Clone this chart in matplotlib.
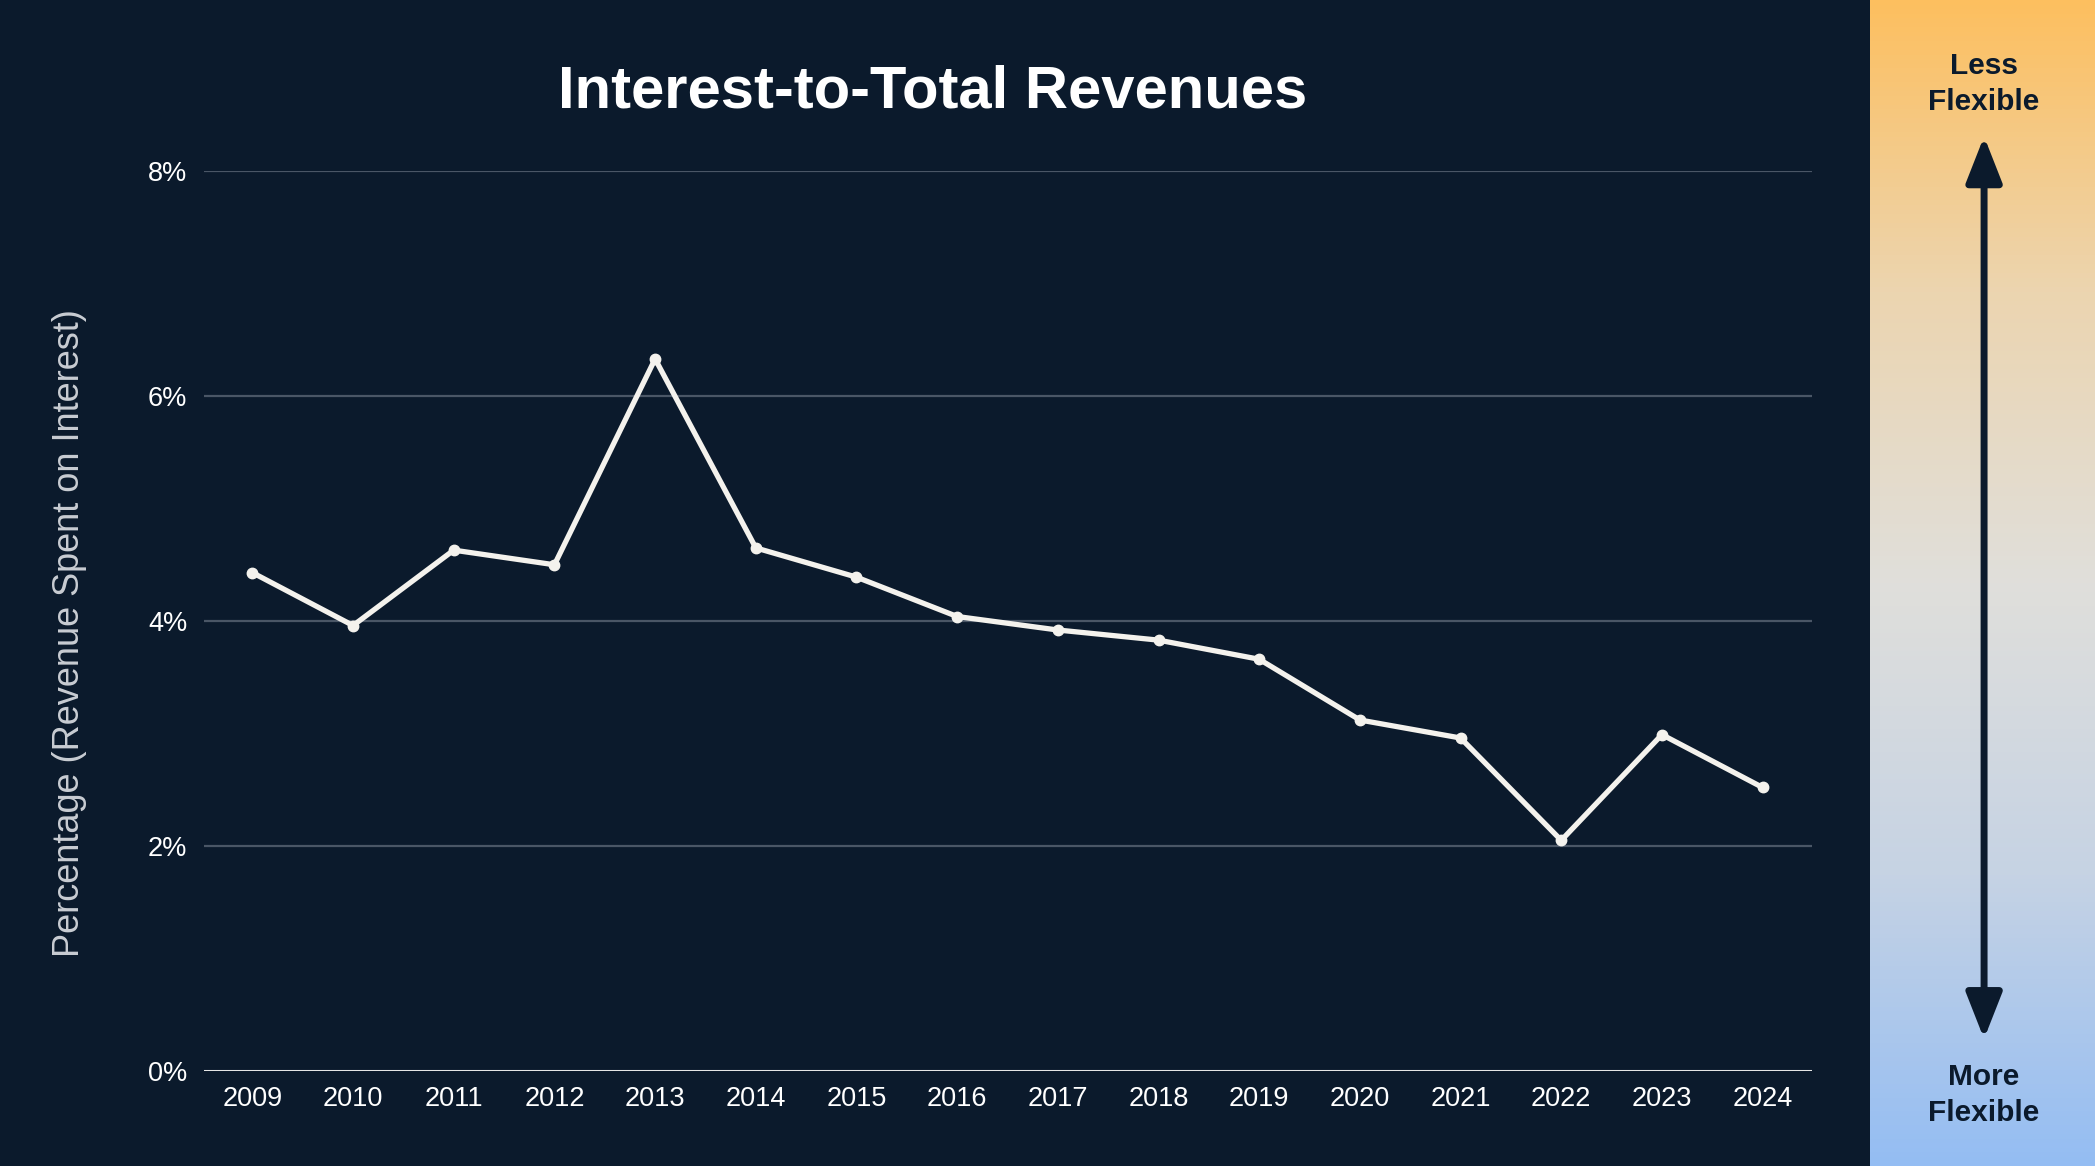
import numpy as np
import matplotlib.pyplot as plt
from matplotlib.colors import LinearSegmentedColormap

plt.rcParams['font.family'] = ['Liberation Sans', 'DejaVu Sans']

# data
years = ['2009', '2010', '2011', '2012', '2013', '2014', '2015', '2016',
         '2017', '2018', '2019', '2020', '2021', '2022', '2023', '2024']
interest_pct = [4.43, 3.96, 4.63, 4.50, 6.33, 4.65, 4.39, 4.04,
                3.92, 3.83, 3.66, 3.12, 2.96, 2.05, 2.99, 2.52]
y_ticks = [0, 2, 4, 6, 8]
y_ticklabels = ['0%', '2%', '4%', '6%', '8%']

bg = '#0b1a2c'
line_col = '#f4f2ed'
grid_col = '#4a5666'

fig = plt.figure(figsize=(20.95, 11.66), dpi=100, facecolor=bg)

ax = fig.add_axes([0.0974, 0.0815, 0.8649 - 0.0974, 0.8533 - 0.0815])
ax.set_facecolor(bg)
x = np.arange(len(years))
ax.plot(x, interest_pct, color=line_col, lw=3.8, marker='o', markersize=7.5,
        solid_joinstyle='round', zorder=3)
ax.set_xlim(-0.48, len(years) - 1 + 0.49)
ax.set_ylim(0, 8)
ax.set_yticks(y_ticks)
ax.set_yticklabels(y_ticklabels)
ax.set_xticks(x)
ax.set_xticklabels(years)
ax.tick_params(colors='white', labelsize=19.5, length=0)
ax.tick_params(axis='x', pad=11)
ax.tick_params(axis='y', pad=12)
for s in ax.spines.values():
    s.set_visible(False)
for yv in y_ticks[1:]:
    ax.axhline(yv, color=grid_col, lw=1.6, zorder=1)
ax.axhline(0, color='#e6e6e6', lw=2.2, zorder=2)

fig.text(0.0334, 0.457, 'Percentage (Revenue Spent on Interest)', rotation=90,
         ha='center', va='center', color='#c9cdd3', fontsize=26)
fig.text(0.445, 0.921, 'Interest-to-Total Revenues', ha='center', va='center',
         color='white', fontsize=43, fontweight='bold')

# side gradient panel
side = fig.add_axes([0.8926, 0, 1 - 0.8926, 1])
cmap = LinearSegmentedColormap.from_list(
    'flex', ['#94bdf3', '#c6d3e4', '#e0dfdb', '#ecd5b0', '#fdbf5f'])
grad = np.linspace(0, 1, 256).reshape(-1, 1)
side.imshow(grad, cmap=cmap, aspect='auto', origin='lower',
            extent=[0, 1, 0, 1])
side.set_xlim(0, 1)
side.set_ylim(0, 1)
side.axis('off')
side.annotate('', xy=(0.507, 0.883), xytext=(0.507, 0.109),
              xycoords='axes fraction', textcoords='axes fraction',
              arrowprops=dict(arrowstyle='<|-|>,head_length=1.4,head_width=0.55',
                              color=bg, lw=5, mutation_scale=20,
                              shrinkA=0, shrinkB=0))
side.text(0.507, 0.928, 'Less\nFlexible', ha='center', va='center',
          color=bg, fontsize=21.5, fontweight='bold', linespacing=1.35)
side.text(0.507, 0.061, 'More\nFlexible', ha='center', va='center',
          color=bg, fontsize=21.5, fontweight='bold', linespacing=1.35)

fig.savefig('out.png', dpi=100, facecolor=bg)
